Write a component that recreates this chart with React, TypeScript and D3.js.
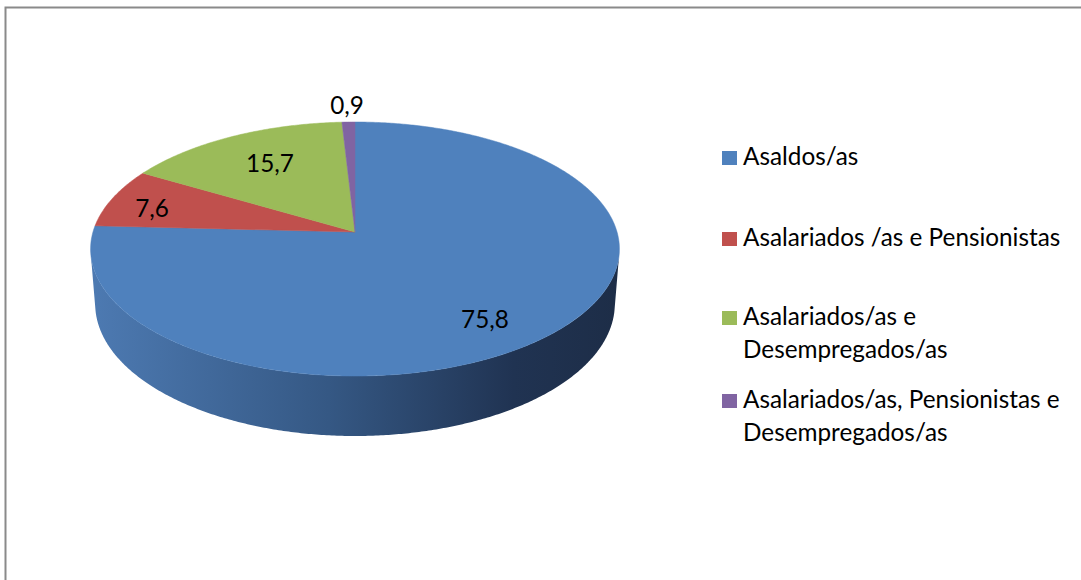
import React from "react";
import * as d3 from "d3";

const categories = [
  "Asaldos/as",
  "Asalariados /as e Pensionistas",
  "Asalariados/as e Desempregados/as",
  "Asalariados/as, Pensionistas e Desempregados/as",
];
const values = [75.8, 7.6, 15.7, 0.9];
const valueLabels = ["75,8", "7,6", "15,7", "0,9"];
const legendLines = [
  ["Asaldos/as"],
  ["Asalariados /as e Pensionistas"],
  ["Asalariados/as e", "Desempregados/as"],
  ["Asalariados/as, Pensionistas e", "Desempregados/as"],
];
const colors = ["#4f81bd", "#c0504d", "#9bbb59", "#8064a2"];

const W = 1081;
const H = 580;

// 3D projection of the pie
const CX = 355;
const CY = 232;
const R = 1;
const D = 6.56;
const F = 1719;
const SIN = 0.476;
const COS = 0.879;
const HGT = 0.241;

function project(theta: number, r: number, y: number): [number, number] {
  const x = r * Math.sin(theta);
  const z = -r * Math.cos(theta);
  const depth = D - y * SIN - z * COS;
  const sx = x;
  const sy = y * COS - z * SIN;
  return [CX + (F * sx) / depth, CY - (F * sy) / depth];
}

const labelPos: [number, number][] = [
  [485, 318],
  [152, 207],
  [270, 162],
  [347, 104],
];

export default function App() {
  const pie = d3.pie<number>().sort(null).value((d) => d)(values);
  const line = d3.line<[number, number]>();
  const step = Math.PI / 360;

  const visA = 100.5 * (Math.PI / 180);
  const visB = 259.5 * (Math.PI / 180);

  const sides = pie
    .map((p, i) => {
      const a0 = Math.max(p.startAngle, visA);
      const a1 = Math.min(p.endAngle, visB);
      if (a1 <= a0) return null;
      const top: [number, number][] = [];
      const bot: [number, number][] = [];
      const n = Math.max(2, Math.ceil((a1 - a0) / step));
      for (let k = 0; k <= n; k++) {
        const t = a0 + ((a1 - a0) * k) / n;
        top.push(project(t, R, 0));
        bot.push(project(t, R, -HGT));
      }
      const pts = top.concat(bot.reverse());
      return { i, d: line(pts) + "Z" };
    })
    .filter((s) => s !== null) as { i: number; d: string }[];

  const tops = pie.map((p, i) => {
    const pts: [number, number][] = [project(0, 0, 0)];
    const n = Math.max(2, Math.ceil((p.endAngle - p.startAngle) / step));
    for (let k = 0; k <= n; k++) {
      const t = p.startAngle + ((p.endAngle - p.startAngle) * k) / n;
      pts.push(project(t, R, 0));
    }
    return { i, d: line(pts) + "Z" };
  });

  const font = "Lato, 'Open Sans', sans-serif";
  const fs = 24.3;
  const legendX = 722;
  const legendTextX = 743;
  const baselines = [165, 246, 325, 408];
  const lineGap = 33;

  return (
    <svg
      width={W}
      height={H}
      style={{ position: "absolute", left: 0, top: 0, display: "block", background: "#fff" }}
    >
      <defs>
        <linearGradient id="side0" gradientUnits="userSpaceOnUse" x1={90} y1={0} x2={620} y2={0}>
          <stop offset="0" stopColor="#4d7ab2" />
          <stop offset="0.45" stopColor="#355884" />
          <stop offset="0.8" stopColor="#203352" />
          <stop offset="1" stopColor="#1d2d47" />
        </linearGradient>
        <linearGradient id="side1" gradientUnits="userSpaceOnUse" x1={90} y1={0} x2={620} y2={0}>
          <stop offset="0" stopColor="#a84744" />
          <stop offset="1" stopColor="#5a2422" />
        </linearGradient>
        <linearGradient id="side2" gradientUnits="userSpaceOnUse" x1={90} y1={0} x2={620} y2={0}>
          <stop offset="0" stopColor="#87a34e" />
          <stop offset="1" stopColor="#48572a" />
        </linearGradient>
        <linearGradient id="side3" gradientUnits="userSpaceOnUse" x1={90} y1={0} x2={620} y2={0}>
          <stop offset="0" stopColor="#70578e" />
          <stop offset="1" stopColor="#3c2f4c" />
        </linearGradient>
      </defs>
      <rect x={5.5} y={7.5} width={W + 20} height={H + 20} fill="#fff" stroke="#8a8a8a" strokeWidth={2} />
      {sides.map((s) => (
        <path key={"s" + s.i} d={s.d} fill={`url(#side${s.i})`} />
      ))}
      {tops.map((t) => (
        <path key={"t" + t.i} d={t.d} fill={colors[t.i]} stroke={colors[t.i]} strokeWidth={0.5} />
      ))}
      {valueLabels.map((v, i) => (
        <text
          key={"v" + i}
          x={labelPos[i][0]}
          y={labelPos[i][1]}
          textAnchor="middle"
          dominantBaseline="central"
          fontFamily={font}
          fontSize={fs}
          fill="#000"
        >
          {v}
        </text>
      ))}
      {categories.map((c, i) => (
        <g key={"l" + i}>
          <rect x={legendX} y={baselines[i] - 14} width={15} height={14} fill={colors[i]} />
          {legendLines[i].map((ln, j) => (
            <text
              key={j}
              x={legendTextX}
              y={baselines[i] + j * lineGap}
              fontFamily={font}
              fontSize={fs}
              fill="#000"
            >
              {ln}
            </text>
          ))}
        </g>
      ))}
    </svg>
  );
}
